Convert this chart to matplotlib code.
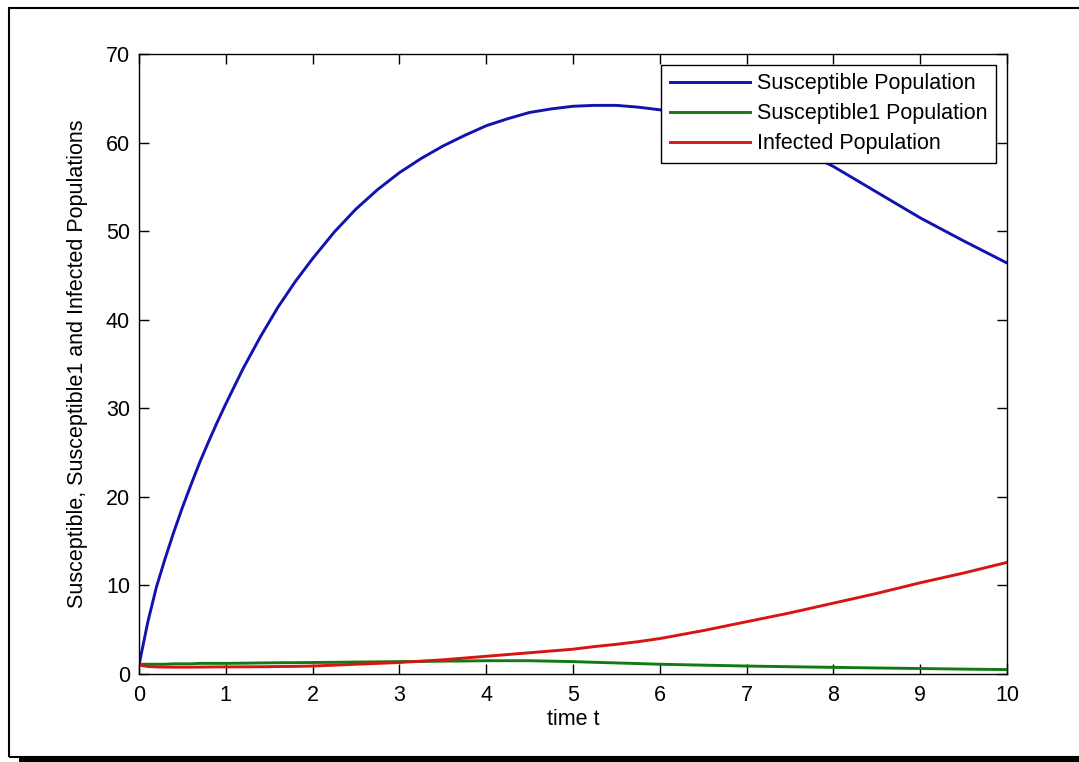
import matplotlib
matplotlib.use("Agg")
import matplotlib.pyplot as plt
from matplotlib.patches import Rectangle

plt.rcParams['font.family'] = ['Liberation Sans', 'DejaVu Sans']

# time grid and the three populations
t = [0, 0.1, 0.2, 0.3, 0.4, 0.5, 0.6, 0.7, 0.8, 0.9, 1.0, 1.2, 1.4, 1.6, 1.8,
     2.0, 2.25, 2.5, 2.75, 3.0, 3.25, 3.5, 3.75, 4.0, 4.25, 4.5, 4.75, 5.0,
     5.25, 5.5, 5.75, 6.0, 6.5, 7.0, 7.5, 8.0, 8.5, 9.0, 9.5, 10.0]

susceptible = [1.0, 5.8, 9.8, 13.0, 16.0, 18.8, 21.4, 23.9, 26.2, 28.4, 30.5,
               34.5, 38.1, 41.4, 44.3, 46.9, 49.9, 52.5, 54.7, 56.6, 58.2,
               59.6, 60.8, 61.9, 62.7, 63.4, 63.8, 64.1, 64.2, 64.2, 64.0,
               63.7, 62.9, 61.6, 59.8, 57.3, 54.4, 51.5, 48.9, 46.4]

susceptible1 = [1.1, 1.1, 1.1, 1.1, 1.15, 1.15, 1.15, 1.2, 1.2, 1.2, 1.2,
                1.22, 1.25, 1.27, 1.28, 1.3, 1.32, 1.35, 1.37, 1.4, 1.42,
                1.45, 1.47, 1.5, 1.5, 1.5, 1.45, 1.4, 1.32, 1.25, 1.18, 1.1,
                1.0, 0.9, 0.82, 0.75, 0.68, 0.62, 0.55, 0.5]

infected = [1.0, 0.85, 0.8, 0.78, 0.77, 0.77, 0.77, 0.78, 0.79, 0.8, 0.8,
            0.81, 0.82, 0.84, 0.86, 0.9, 1.0, 1.1, 1.2, 1.3, 1.45, 1.6, 1.8,
            2.0, 2.2, 2.4, 2.6, 2.8, 3.1, 3.35, 3.65, 4.0, 4.9, 5.9, 6.9,
            8.0, 9.1, 10.3, 11.4, 12.6]

labels = ['Susceptible Population', 'Susceptible1 Population', 'Infected Population']
colors = ['#1212b0', '#127a12', '#d81414']

x_ticks = list(range(0, 11))
y_ticks = list(range(0, 71, 10))

FS = 15.5

fig = plt.figure(figsize=(10.79, 7.62), dpi=100)
ax = fig.add_axes([139 / 1079, 88 / 762, 868 / 1079, 620 / 762])

for y, lab, c in zip([susceptible, susceptible1, infected], labels, colors):
    ax.plot(t, y, color=c, lw=2.1, label=lab)

ax.set_xlim(0, 10)
ax.set_ylim(0, 70)
ax.set_xticks(x_ticks)
ax.set_yticks(y_ticks)
ax.tick_params(direction='in', top=True, right=True, length=7, width=1,
               labelsize=FS)
ax.tick_params(axis='x', pad=8)
ax.tick_params(axis='y', pad=6.5)
for s in ax.spines.values():
    s.set_linewidth(1.0)

ax.set_xlabel('time t', fontsize=FS)
ax.xaxis.set_label_coords(0.5, -(709 - 674) / 620)
ax.set_ylabel('Susceptible, Susceptible1 and Infected Populations', fontsize=FS)
ax.yaxis.set_label_coords(-(139 - 88) / 868, 0.5)

leg = ax.legend(loc='upper right', fontsize=FS, frameon=True, fancybox=False,
                framealpha=1, edgecolor='black', handlelength=3.7,
                handletextpad=0.35, labelspacing=0.42, borderpad=0.4,
                borderaxespad=0.5)
leg.get_frame().set_linewidth(1.0)

# outer frame of the screenshot
fig.add_artist(Rectangle((9 / 1079, 5 / 762), 1.2, 749 / 762,
                         transform=fig.transFigure, fill=False,
                         edgecolor='black', lw=1.5))
fig.add_artist(Rectangle((19 / 1079, 0), 1.2, 4 / 762,
                         transform=fig.transFigure, facecolor='black',
                         edgecolor='none'))

fig.savefig('out.png', dpi=100)
